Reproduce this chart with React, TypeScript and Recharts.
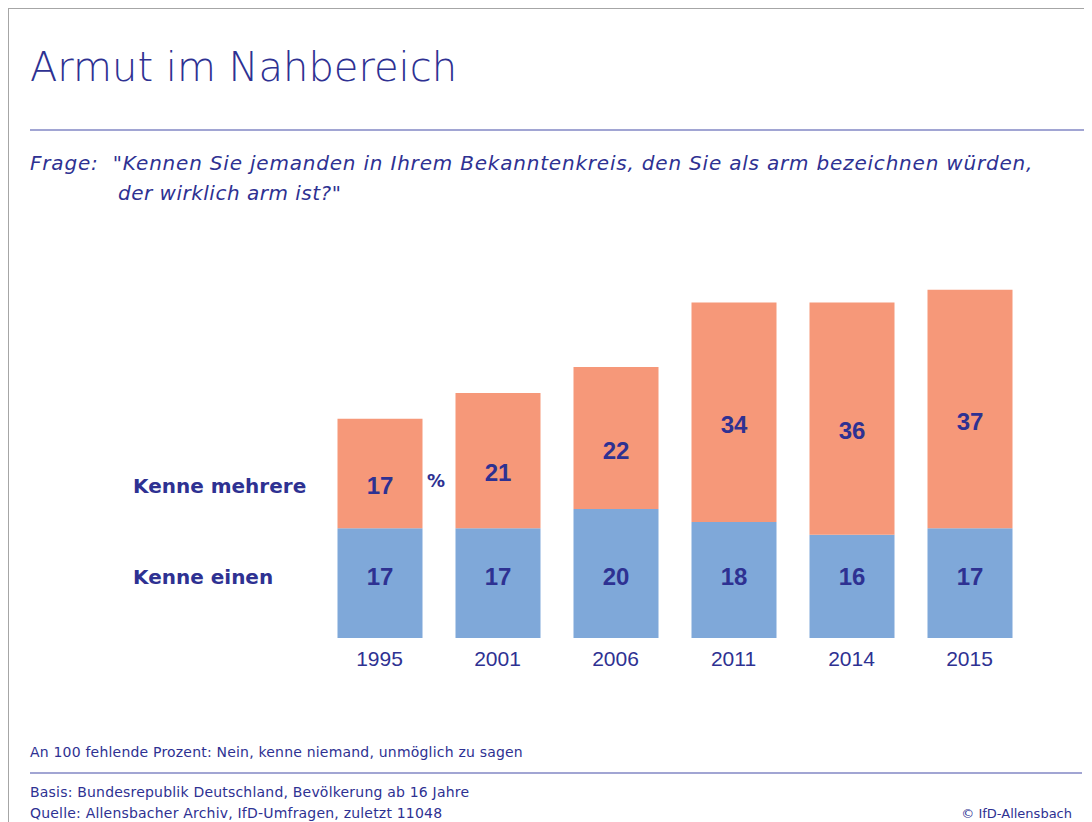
import { BarChart, Bar, XAxis, YAxis, LabelList } from "recharts";

const years = ["1995", "2001", "2006", "2011", "2014", "2015"];
const kenneEinen = [17, 17, 20, 18, 16, 17];
const kenneMehrere = [17, 21, 22, 34, 36, 37];

const data = years.map((year, i) => ({ year, einen: kenneEinen[i], mehrere: kenneMehrere[i] }));

const NAVY = "#2e3192";
const LINE = "#8287c4";
const ORANGE = "#f69879";
const BLUE = "#7fa8d9";
const TEXT_FONT = "'DejaVu Sans', sans-serif";
const NUM_FONT = "'Liberation Sans', Arial, sans-serif";

function numText(x: number, y: number, value: any) {
  return (
    <text x={x} y={y} textAnchor="middle" dominantBaseline="central" fontFamily={NUM_FONT} fontWeight="bold" fontSize={24} fill={NAVY}>
      {value}
    </text>
  );
}

// blue labels sit at a fixed distance above the bar base, orange ones a bit below the segment middle
const einenLabel = (p: any) => numText(p.x + p.width / 2, p.y + p.height - 62, p.value);
const mehrereLabel = (p: any) => numText(p.x + p.width / 2, p.y + p.height / 2 + 12, p.value);

function YearTick(props: any) {
  const { x, y, payload } = props;
  return (
    <text x={x} y={y} dy={12} textAnchor="middle" dominantBaseline="central" fontFamily={NUM_FONT} fontSize={21} fill={NAVY}>
      {payload.value}
    </text>
  );
}

export default function App() {
  return (
    <div style={{ position: "relative", width: 1084, height: 814, background: "#fff", overflow: "hidden" }}>
      <div style={{ position: "absolute", left: 0, top: 0, width: 1084, height: 1, background: "#a6a6a6" }} />
      <div style={{ position: "absolute", left: 0, top: 0, width: 1, height: 814, background: "#a6a6a6" }} />

      <div style={{ position: "absolute", left: 0, top: 0 }}>
        <BarChart width={1084} height={700} data={data} margin={{ top: 243, right: 63.5, bottom: 30, left: 312.5 }}>
          <XAxis dataKey="year" axisLine={false} tickLine={false} height={40} tick={<YearTick />} interval={0} />
          <YAxis hide domain={[0, 60]} width={0} />
          <Bar dataKey="einen" stackId="a" fill={BLUE} barSize={85} isAnimationActive={false}>
            <LabelList dataKey="einen" content={einenLabel} />
          </Bar>
          <Bar dataKey="mehrere" stackId="a" fill={ORANGE} barSize={85} isAnimationActive={false}>
            <LabelList dataKey="mehrere" content={mehrereLabel} />
          </Bar>
        </BarChart>
      </div>

      <svg width={1084} height={814} style={{ position: "absolute", left: 0, top: 0, pointerEvents: "none" }}>
        <text x={22} y={73} fontFamily={TEXT_FONT} fontWeight={200} fontSize={40} fill={NAVY}>
          Armut im Nahbereich
        </text>
        <line x1={22} x2={1084} y1={122} y2={122} stroke={LINE} strokeWidth={1.5} />
        <text x={22} y={161.5} fontFamily={TEXT_FONT} fontStyle="italic" fontSize={20} letterSpacing={0.8} fill={NAVY} style={{ whiteSpace: "pre" }}>
          {'Frage:  "Kennen Sie jemanden in Ihrem Bekanntenkreis, den Sie als arm bezeichnen würden,'}
        </text>
        <text x={110} y={192} fontFamily={TEXT_FONT} fontStyle="italic" fontSize={20} letterSpacing={0.5} fill={NAVY}>
          {'der wirklich arm ist?"'}
        </text>

        <text x={125} y={485} fontFamily={TEXT_FONT} fontWeight="bold" fontSize={20} fill={NAVY}>
          Kenne mehrere
        </text>
        <text x={125} y={576} fontFamily={TEXT_FONT} fontWeight="bold" fontSize={20} fill={NAVY}>
          Kenne einen
        </text>
        <text x={428} y={479} textAnchor="middle" fontFamily={TEXT_FONT} fontWeight="bold" fontSize={18} fill={NAVY}>
          %
        </text>

        <text x={22} y={749} fontFamily={TEXT_FONT} fontSize={14} letterSpacing={0.2} fill={NAVY}>
          An 100 fehlende Prozent: Nein, kenne niemand, unmöglich zu sagen
        </text>
        <line x1={22} x2={1074} y1={765} y2={765} stroke={LINE} strokeWidth={1.5} />
        <text x={22} y={789} fontFamily={TEXT_FONT} fontSize={14} letterSpacing={0.2} fill={NAVY}>
          Basis: Bundesrepublik Deutschland, Bevölkerung ab 16 Jahre
        </text>
        <text x={22} y={810} fontFamily={TEXT_FONT} fontSize={14} letterSpacing={0.2} fill={NAVY}>
          Quelle: Allensbacher Archiv, IfD-Umfragen, zuletzt 11048
        </text>
        <text x={1064} y={810} textAnchor="end" fontFamily={TEXT_FONT} fontSize={13} fill={NAVY}>
          © IfD-Allensbach
        </text>
      </svg>
    </div>
  );
}
